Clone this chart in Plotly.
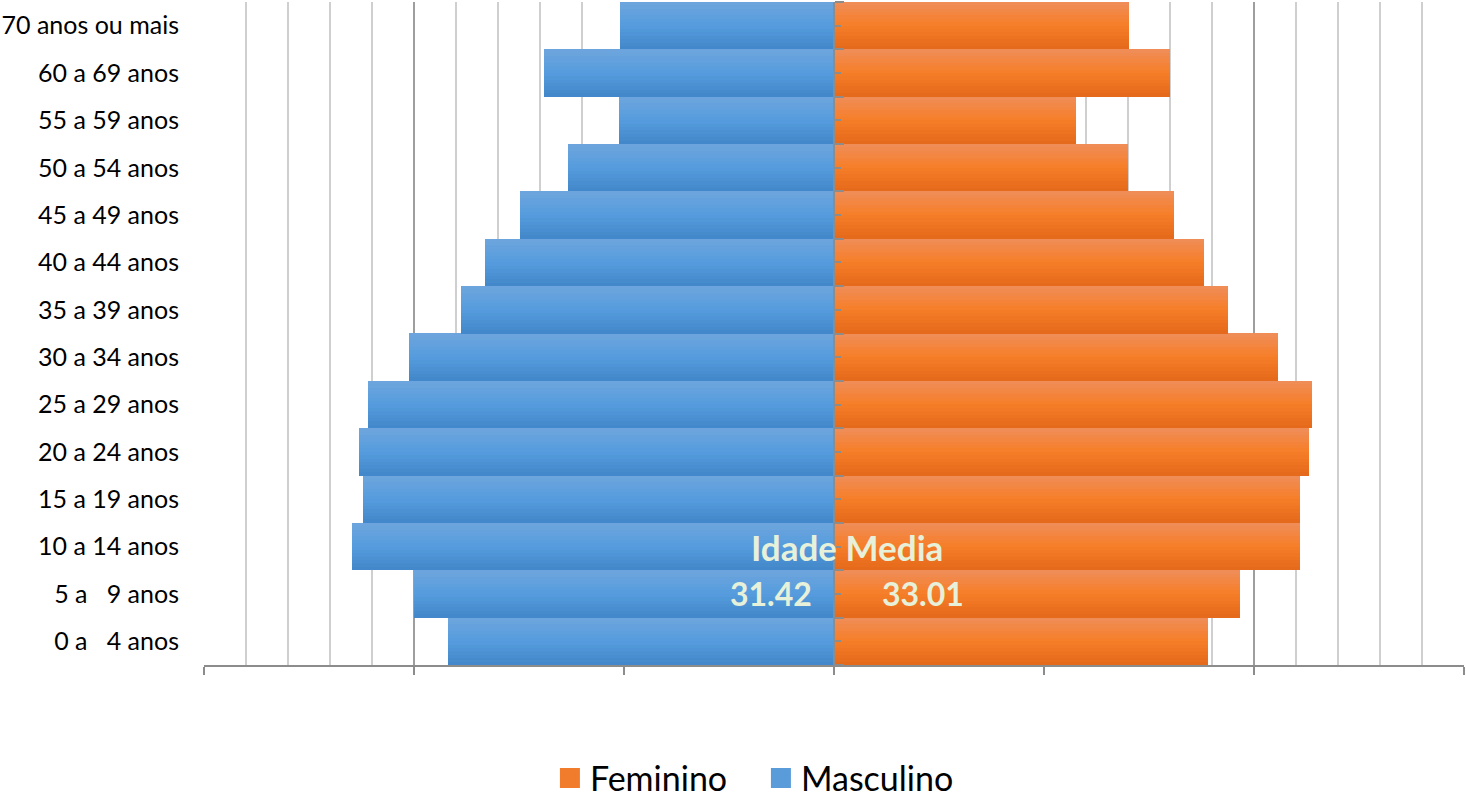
import plotly.graph_objects as go

# ---- data (bottom to top) ----
categories = ["0 a\u00a0\u00a0\u00a04 anos", "5 a\u00a0\u00a0\u00a09 anos", "10 a 14 anos", "15 a 19 anos",
              "20 a 24 anos", "25 a 29 anos", "30 a 34 anos", "35 a 39 anos",
              "40 a 44 anos", "45 a 49 anos", "50 a 54 anos", "55 a 59 anos",
              "60 a 69 anos", "70 anos ou mais"]
masculino = [1840, 2002, 2293, 2245, 2264, 2221, 2026, 1774, 1660, 1493, 1269, 1026, 1383, 1021]
feminino = [1783, 1931, 2221, 2217, 2264, 2274, 2112, 1874, 1760, 1617, 1398, 1150, 1602, 1407]
idade_media_label = "Idade Media"
idade_media_masc = "31.42"
idade_media_fem = "33.01"

FONT = "Lato"
N = 14  # strips per bar to imitate vertical gradient


def lerp(c1, c2, t):
    return tuple(round(a + (b - a) * t) for a, b in zip(c1, c2))


def grad(top, mid, bot, t):
    if t < 0.5:
        c = lerp(top, mid, t / 0.5)
    else:
        c = lerp(mid, bot, (t - 0.5) / 0.5)
    return "rgb(%d,%d,%d)" % c


orange = ((240, 141, 88), (246, 126, 40), (228, 104, 26))
blue = ((110, 166, 221), (85, 156, 222), (66, 135, 200))

fig = go.Figure()
neg_masc = [-v for v in masculino]
for k in range(N):
    t = (k + 0.5) / N
    off = 0.5 - (k + 1) / N
    fig.add_trace(go.Bar(y=categories, x=feminino, orientation="h", width=1.0 / N + 0.002,
                         offset=off, marker=dict(color=grad(*orange, t), line=dict(width=0)),
                         showlegend=False, name="Feminino", hoverinfo="skip" if k else None))
    fig.add_trace(go.Bar(y=categories, x=neg_masc, orientation="h", width=1.0 / N + 0.002,
                         offset=off, marker=dict(color=grad(*blue, t), line=dict(width=0)),
                         showlegend=False, name="Masculino", customdata=masculino,
                         hovertemplate="%{customdata}<extra>Masculino</extra>",
                         hoverinfo="skip" if k else None))

# legend entries
fig.add_trace(go.Scatter(x=[None], y=[None], mode="markers", name="Feminino",
                         marker=dict(symbol="square", size=16, color="rgb(240,124,44)",
                                     line=dict(width=4, color="rgb(240,124,44)"))))
fig.add_trace(go.Scatter(x=[None], y=[None], mode="markers", name="Masculino",
                         marker=dict(symbol="square", size=16, color="rgb(90,156,218)",
                                     line=dict(width=4, color="rgb(90,156,218)"))))

# invisible carriers for the central category axes (ticks at boundaries and centres)
zeros = [0] * len(categories)
fig.add_trace(go.Scatter(x=zeros, y=categories, yaxis="y2", mode="markers",
                         marker=dict(opacity=0), showlegend=False, hoverinfo="skip"))
fig.add_trace(go.Scatter(x=zeros, y=categories, yaxis="y3", mode="markers",
                         marker=dict(opacity=0), showlegend=False, hoverinfo="skip"))

fig.add_annotation(x=60, y=categories[2], text="<b>%s</b>" % idade_media_label, showarrow=False,
                   font=dict(family=FONT, size=35, color="#E7F1DA"))
fig.add_annotation(x=-300, y=categories[1], text="<b>%s</b>" % idade_media_masc, showarrow=False,
                   font=dict(family=FONT, size=32, color="#E7F1DA"))
fig.add_annotation(x=426, y=categories[1], text="<b>%s</b>" % idade_media_fem, showarrow=False,
                   font=dict(family=FONT, size=32, color="#E7F1DA"))

yr = [-0.5, len(categories) - 0.5]
center_axis = dict(type="category", categoryorder="array", categoryarray=categories, range=yr,
                   overlaying="y", anchor="free", position=0.5, side="right",
                   showgrid=False, zeroline=False, showticklabels=False,
                   showline=True, linecolor="#8C8C8C", linewidth=2,
                   ticks="outside", tickwidth=1.5, tickcolor="#8C8C8C", fixedrange=True)
fig.update_layout(
    width=1466, height=801,
    margin=dict(l=204, r=2, t=2, b=136, autoexpand=False),
    paper_bgcolor="white", plot_bgcolor="white",
    barmode="overlay", bargap=0,
    font=dict(family=FONT, color="black"),
    showlegend=True,
    legend=dict(orientation="h", x=0.442, xanchor="center", y=-0.171, yanchor="middle",
                font=dict(family=FONT, size=34, color="black"), itemwidth=30,
                entrywidth=166, traceorder="normal"),
    xaxis=dict(range=[-3000, 3000], tick0=-3000, dtick=1000, showticklabels=False,
               showgrid=True, gridcolor="#9E9E9E", gridwidth=1.5,
               minor=dict(dtick=200, showgrid=True, gridcolor="#CFCFCF", gridwidth=1.5),
               zeroline=False, showline=True, linecolor="#8C8C8C", linewidth=2,
               ticks="outside", ticklen=8, tickwidth=1.5, tickcolor="#8C8C8C", fixedrange=True),
    yaxis=dict(type="category", categoryorder="array", categoryarray=categories, range=yr,
               showgrid=False, zeroline=False, showline=False, ticks="",
               tickfont=dict(family=FONT, size=25, color="black"), ticklabelstandoff=24,
               fixedrange=True),
    yaxis2=dict(center_axis, tickson="boundaries", ticklen=9),
    yaxis3=dict(center_axis, tickson="labels", ticklen=6),
)

fig.write_html("out.html", config={"displayModeBar": False},
               post_script="document.body.style.margin='0';")
